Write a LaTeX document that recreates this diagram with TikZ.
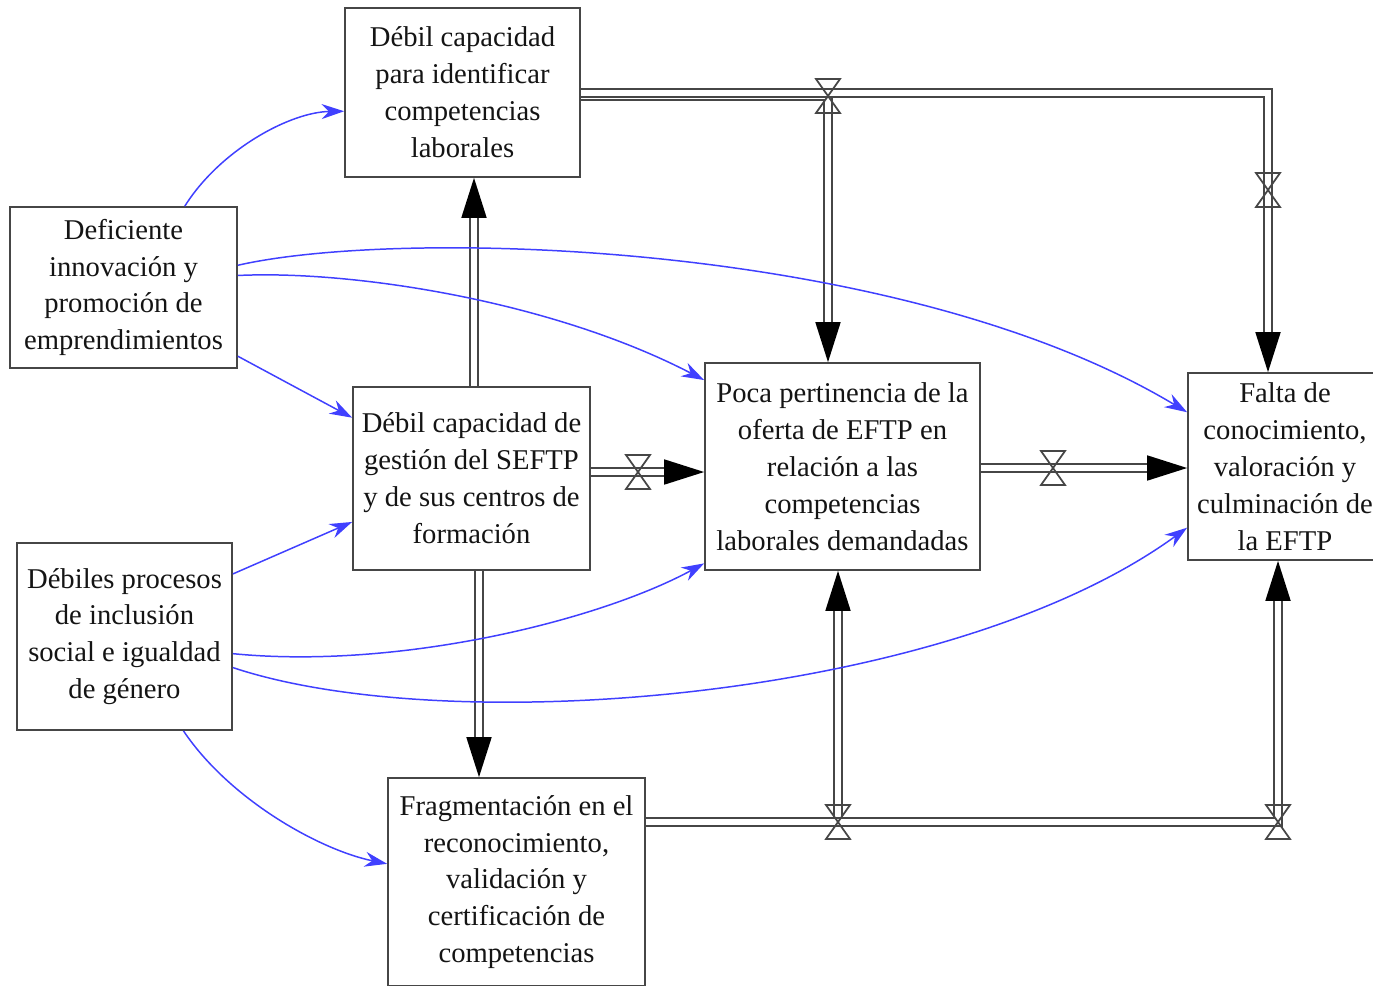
\documentclass[tikz,border=0pt]{standalone}
\usepackage{fontspec}
\setmainfont{Liberation Serif}
\usetikzlibrary{arrows.meta}
\definecolor{azul}{RGB}{64,64,255}
\definecolor{gris}{RGB}{70,70,70}
\definecolor{tinta}{RGB}{20,20,20}
\tikzset{
  caja/.style={draw=gris, line width=1pt, fill=white, align=center, text=tinta,
    font=\fontsize{16.3}{21}\selectfont, inner sep=0pt},
  flujo/.style={draw=gris, line width=1pt, double=white, double distance=0.12cm},
  punta/.style={-{Triangle[length=0.8cm,width=0.5cm,black]}},
  enlace/.style={azul, line width=0.85pt, -{Stealth[length=0.45cm,width=0.3cm]}},
}
% valvula (reloj de arena) en una coordenada
\newcommand{\valvula}[1]{\draw[gris, line width=1pt, shift={(#1)}] (-12,-17) -- (12,-17) -- (-12,17) -- (12,17) -- cycle;}

\begin{document}
\begin{tikzpicture}[x=0.02cm, y=-0.02cm]
\useasboundingbox (0,0) rectangle (1373,985);
\clip (0,0) rectangle (1373,985);
% variables
\node[caja, minimum width=4.7cm, minimum height=3.38cm] (b1) at (462.5,92.5) {Débil capacidad\\para identificar\\competencias\\laborales};
\node[caja, minimum width=4.54cm, minimum height=3.22cm] (b2) at (123.5,287.5) {Deficiente\\innovación y\\promoción de\\emprendimientos};
\node[caja, minimum width=4.74cm, minimum height=3.66cm] (b3) at (471.5,478.5) {Débil capacidad de\\gestión del SEFTP\\y de sus centros de\\formación};
\node[caja, minimum width=4.3cm, minimum height=3.74cm] (b4) at (124.5,636.5) {Débiles procesos\\de inclusión\\social e igualdad\\de género};
\node[caja, minimum width=5.5cm, minimum height=4.14cm] (b5) at (842.5,466.5) {Poca pertinencia de la\\oferta de EFTP en\\relación a las\\competencias\\laborales demandadas};
\node[caja, minimum width=3.88cm, minimum height=3.74cm] (b6) at (1285,466.5) {Falta de\\conocimiento,\\valoración y\\culminación de\\la EFTP};
\node[caja, minimum width=5.14cm, minimum height=4.16cm] (b7) at (516.5,882) {Fragmentación en el\\reconocimiento,\\validación y\\certificación de\\competencias};
% flujos
\coordinate (v1) at (828,96);
\coordinate (r1) at (1268,93);
\coordinate (v2) at (1268,190);
\coordinate (v3) at (638,472);
\coordinate (v4) at (1053,468);
\coordinate (v5) at (838,822);
\coordinate (v6) at (1278,822);
\coordinate (x3) at (474,300);
\coordinate (x7) at (479,670);
\draw[flujo, punta] (b1.east |- v1) -- (v1) -- (v1 |- b5.north);
\draw[flujo, punta] (b1.east |- r1) -- (r1) -- (r1 |- b6.north);
\draw[flujo, punta] (b3.north -| x3) -- (b1.south -| x3);
\draw[flujo, punta] (b3.east |- v3) -- (b5.west |- v3);
\draw[flujo, punta] (b5.east |- v4) -- (b6.west |- v4);
\draw[flujo, punta] (b3.south -| x7) -- (b7.north -| x7);
\draw[flujo, punta] (b7.east |- v5) -- (v5) -- (v5 |- b5.south);
\draw[flujo, punta] (b7.east |- v6) -- (v6) -- (v6 |- b6.south);
% enlaces
\draw[enlace] (b2.53) .. controls (220,150) and (290,112) .. (b1.189);
\draw[enlace] (b2.11) .. controls (400,228) and (900,240) .. (b6.151);
\draw[enlace] (b2.6) .. controls (350,270) and (550,300) .. (b5.148);
\draw[enlace] (b2.-31) -- (b3.153);
\draw[enlace] (b4.30) -- (b3.200);
\draw[enlace] (b4.-9) .. controls (400,670) and (600,620) .. (b5.215);
\draw[enlace] (b4.-16) .. controls (450,740) and (950,700) .. (b6.212);
\draw[enlace] (b4.-58) .. controls (230,800) and (320,850) .. (b7.172);
% valvulas
\valvula{v1}
\valvula{v2}
\valvula{v3}
\valvula{v4}
\valvula{v5}
\valvula{v6}
\end{tikzpicture}
\end{document}
